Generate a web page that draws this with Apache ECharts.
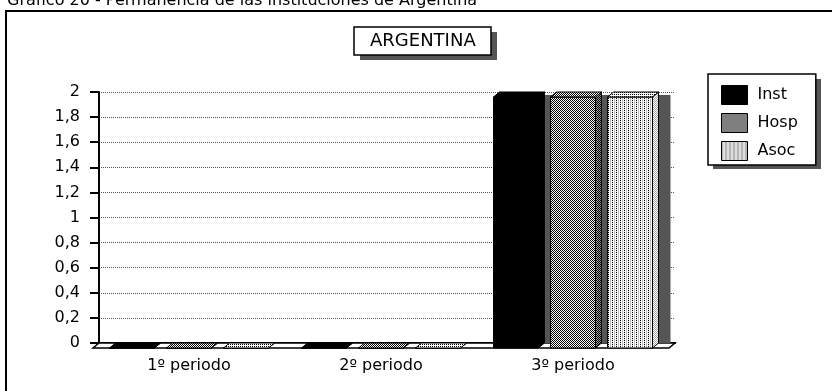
<!DOCTYPE html>
<html><head><meta charset="utf-8">
<script src="https://cdn.jsdelivr.net/npm/echarts@6/dist/echarts.min.js"></script>
<style>html,body{margin:0;padding:0;background:#fff}#c{width:832px;height:391px}</style>
</head><body><div id="c"></div>
<script>
const pageTitle = 'Gráfico 20 - Permanencia de las instituciones de Argentina';
const chartTitle = 'ARGENTINA';
const categories = ['1º periodo', '2º periodo', '3º periodo'];
const seriesNames = ['Inst', 'Hosp', 'Asoc'];
const instValues = [0, 0, 2];
const hospValues = [0, 0, 2];
const asocValues = [0, 0, 2];
const yMin = 0, yMax = 2, yStep = 0.2;

const FONT = 'DejaVu Sans, Verdana, sans-serif';

function pattern(rows) {
  const h = rows.length, w = rows[0].length;
  const c = document.createElement('canvas');
  c.width = w; c.height = h;
  const ctx = c.getContext('2d');
  for (let y = 0; y < h; y++) for (let x = 0; x < w; x++) {
    ctx.fillStyle = rows[y][x];
    ctx.fillRect(x, y, 1, 1);
  }
  return { image: c, repeat: 'repeat' };
}
const K = '#000', W = '#fff';
const fills = [
  { front: '#000', side: '#000', top: '#000' },
  { front: pattern([[K, W], [W, K]]), side: pattern([[K, '#999'], ['#999', K]]), top: pattern([[K, W], [W, K]]) },
  { front: pattern([[K, W, '#bbb', W], ['#ddd', W, '#bbb', W]]), side: pattern([['#aaa', W], [W, '#aaa']]), top: pattern([[K, W], [W, W]]) }
];

const DX = 6, DY = 5;
function makeRender(k) {
  const f = fills[k];
  return function (params, api) {
    const ci = api.value(0), v = api.value(1);
    const top = api.coord([ci, v]);
    const base = api.coord([ci, 0]);
    const band = api.size([1, 0])[0];
    const w = band * 0.234, step = band * 0.297;
    const fc = top[0] - DX;
    const fx0 = fc - w / 2 + (k - 1) * step;
    const fx1 = fx0 + w;
    const fyTop = top[1] + DY, fyBot = base[1] + DY;
    const children = [];
    if (base[1] - top[1] > 1) {
      children.push({ type: 'rect', shape: { x: fx0 + DX + 12, y: top[1] + 3, width: w, height: base[1] - top[1] - 3 }, style: { fill: '#555' } });
    }
    children.push({ type: 'polygon', shape: { points: [[fx1, fyTop], [fx1 + DX, top[1]], [fx1 + DX, base[1]], [fx1, fyBot]] }, style: { fill: f.side, stroke: '#000', lineWidth: 1 } });
    children.push({ type: 'rect', shape: { x: fx0, y: fyTop, width: w, height: Math.max(0, fyBot - fyTop) }, style: { fill: f.front, stroke: '#000', lineWidth: 1 } });
    children.push({ type: 'polygon', shape: { points: [[fx0, fyTop], [fx0 + DX, top[1]], [fx1 + DX, top[1]], [fx1, fyTop]] }, style: { fill: f.top, stroke: '#000', lineWidth: 1 } });
    return { type: 'group', children };
  };
}

function floorRender(params, api) {
  const cs = params.coordSys;
  const by = cs.y + cs.height;
  return {
    type: 'polygon',
    shape: { points: [[cs.x, by], [cs.x + cs.width, by], [cs.x + cs.width - DX, by + DY], [cs.x - DX, by + DY]] },
    style: { fill: '#fff', stroke: '#000', lineWidth: 1.5 }
  };
}

const valueSets = [instValues, hospValues, asocValues];
const series = [{
  type: 'custom', name: 'floor', renderItem: floorRender, data: [[0, 0]], silent: true, z: 1
}];
seriesNames.forEach((n, k) => {
  series.push({
    type: 'custom', name: n, z: 2,
    renderItem: makeRender(k),
    itemStyle: { color: fills[k].front },
    data: valueSets[k].map((v, i) => [i, v])
  });
});

const chart = echarts.init(document.getElementById('c'), null, { renderer: 'canvas' });
chart.setOption({
  animation: false,
  backgroundColor: '#fff',
  textStyle: { fontFamily: FONT },
  graphic: [
    { type: 'rect', shape: { x: 6, y: 11, width: 900, height: 420 }, style: { fill: 'none', stroke: '#000', lineWidth: 2 }, z: -10 },
    { type: 'text', x: 7, y: 9, style: { text: pageTitle, font: '16px "DejaVu Sans", Verdana, sans-serif', fill: '#000', verticalAlign: 'bottom' } },
    { type: 'rect', shape: { x: 360, y: 32, width: 137, height: 28 }, style: { fill: '#555' }, z: 0 },
    { type: 'rect', shape: { x: 713, y: 79, width: 108, height: 90 }, style: { fill: '#555' }, z: 0 }
  ],
  title: {
    text: chartTitle, left: 354, top: 27,
    padding: [5, 16],
    borderColor: '#000', borderWidth: 1.5, backgroundColor: '#fff',
    textStyle: { fontSize: 18, fontWeight: 'normal', color: '#000', fontFamily: FONT }
  },
  legend: {
    orient: 'vertical', left: 708, top: 74,
    padding: [11, 18, 4, 13],
    itemWidth: 26, itemHeight: 19, itemGap: 8,
    backgroundColor: '#fff', borderColor: '#000', borderWidth: 1.5,
    icon: 'rect',
    itemStyle: { borderColor: '#000', borderWidth: 1 },
    textStyle: { fontSize: 16, color: '#000', fontFamily: FONT, padding: [0, 0, 0, 5] },
    data: seriesNames.map((n, k) => ({ name: n, itemStyle: { color: fills[k].front } }))
  },
  grid: { left: 99, right: 157, top: 92, bottom: 48 },
  xAxis: {
    type: 'category', data: categories,
    axisTick: { show: false },
    axisLine: { show: true, lineStyle: { color: '#000', width: 2 } },
    axisLabel: { color: '#000', fontSize: 16, fontFamily: FONT, margin: 15, padding: [0, 12, 0, 0] },
    splitLine: { show: false }
  },
  yAxis: {
    type: 'value', min: yMin, max: yMax, interval: yStep,
    axisLine: { show: true, lineStyle: { color: '#000', width: 2 } },
    axisTick: { show: true, length: 9, lineStyle: { color: '#000', width: 2 } },
    axisLabel: { color: '#000', fontSize: 16, fontFamily: FONT, margin: 19, formatter: v => String(Number(v.toFixed(1))).replace('.', ',') },
    splitLine: { show: true, lineStyle: { color: '#555', type: 'dotted', width: 1 } }
  },
  series
});
</script>
</body></html>
